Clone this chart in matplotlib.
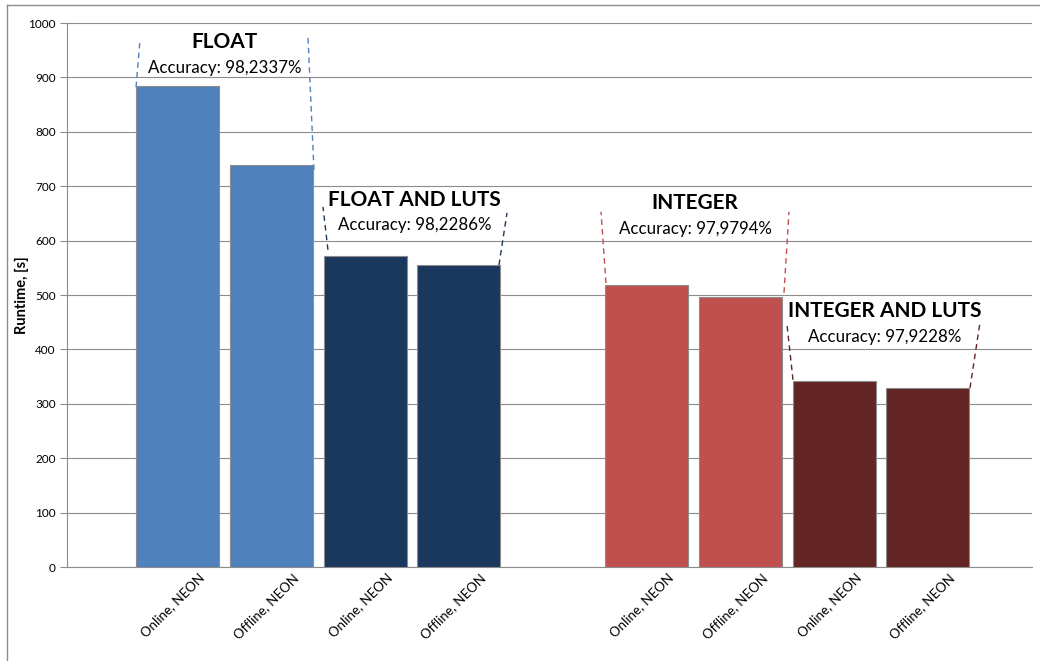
import matplotlib.pyplot as plt
import matplotlib.transforms as mtransforms
import numpy as np

plt.rcParams['font.family'] = ['Lato', 'DejaVu Sans']

# data
labels = ["Online, NEON", "Offline, NEON", "Online, NEON", "Offline, NEON",
          "Online, NEON", "Offline, NEON", "Online, NEON", "Offline, NEON"]
runtime = [884, 739, 572, 555, 518, 496, 342, 329]
positions = [0, 1, 2, 3, 5, 6, 7, 8]  # slot 4 left empty between groups
bar_colors = ["#4F81BD", "#4F81BD", "#1A375E", "#1A375E",
              "#C0504D", "#C0504D", "#632523", "#632523"]

groups = ["FLOAT", "FLOAT AND LUTS", "INTEGER", "INTEGER AND LUTS"]
accuracy = ["98,2337%", "98,2286%", "97,9794%", "97,9228%"]
group_colors = ["#4F81BD", "#1A375E", "#C0504D", "#632523"]

# callout layout (data coords): title pos, accuracy y, bracket lines
title_xy = [(0.5, 965), (2.53, 675), (5.52, 669), (7.54, 471)]
acc_y = [917, 629, 621, 423]
left_lines = [((-0.442, 882), (-0.40, 969)), ((1.604, 583), (1.551, 662)),
              ((4.568, 522), (4.515, 653)), ((6.562, 344), (6.498, 445))]
right_lines = [((1.455, 730), (1.391, 974)), ((3.427, 555), (3.513, 651)),
               ((6.466, 504), (6.519, 653)), ((8.449, 329), (8.555, 449))]

fig = plt.figure(figsize=(10.4, 6.61), dpi=100)
ax = fig.add_axes([67 / 1040, 1 - 567 / 661, (1032 - 67) / 1040, (567 - 23) / 661])

ax.bar(positions, runtime, width=0.885, color=bar_colors,
       edgecolor="#8C8C8C", linewidth=0.8, zorder=3)

ax.set_xlim(-1.178, 9.11)
ax.set_ylim(0, 1000)
ax.set_yticks(np.arange(0, 1001, 100))
ax.yaxis.grid(True, color="#8C8C8C", linewidth=0.8)
ax.set_axisbelow(True)
for s in ["top", "right"]:
    ax.spines[s].set_visible(False)
for s in ["left", "bottom"]:
    ax.spines[s].set_color("#8C8C8C")
ax.tick_params(axis="y", length=5, color="#8C8C8C", labelsize=8.5, pad=3)
ax.tick_params(axis="x", length=0)
ax.set_ylabel("Runtime, [s]", fontsize=10.5, fontweight="bold", va="center")
ax.yaxis.set_label_coords(-0.047, 0.5)

ax.set_xticks(positions)
ax.set_xticklabels(labels, rotation=45, ha="right", va="center",
                   rotation_mode="anchor", fontsize=9.5)
offset = mtransforms.ScaledTranslation(25 / 100, -4 / 100, fig.dpi_scale_trans)
for t in ax.get_xticklabels():
    t.set_transform(t.get_transform() + offset)

for i, g in enumerate(groups):
    x, y = title_xy[i]
    ax.text(x, y, g, ha="center", va="center", fontsize=15, fontweight="bold", zorder=5)
    ax.text(x, acc_y[i], "Accuracy: " + accuracy[i], ha="center", va="center",
            fontsize=12.2, zorder=5)
    for (x0, y0), (x1, y1) in (left_lines[i], right_lines[i]):
        ax.plot([x0, x1], [y0, y1], linestyle=(0, (4, 3)), color=group_colors[i],
                linewidth=1, zorder=4, clip_on=False)

# chart area frame
fig.add_artist(plt.Line2D([7 / 1040, 7 / 1040], [0, 1 - 5 / 661], color="#8C8C8C", linewidth=1))
fig.add_artist(plt.Line2D([7 / 1040, 1], [1 - 5 / 661, 1 - 5 / 661], color="#8C8C8C", linewidth=1))

fig.savefig("out.png", dpi=100)
